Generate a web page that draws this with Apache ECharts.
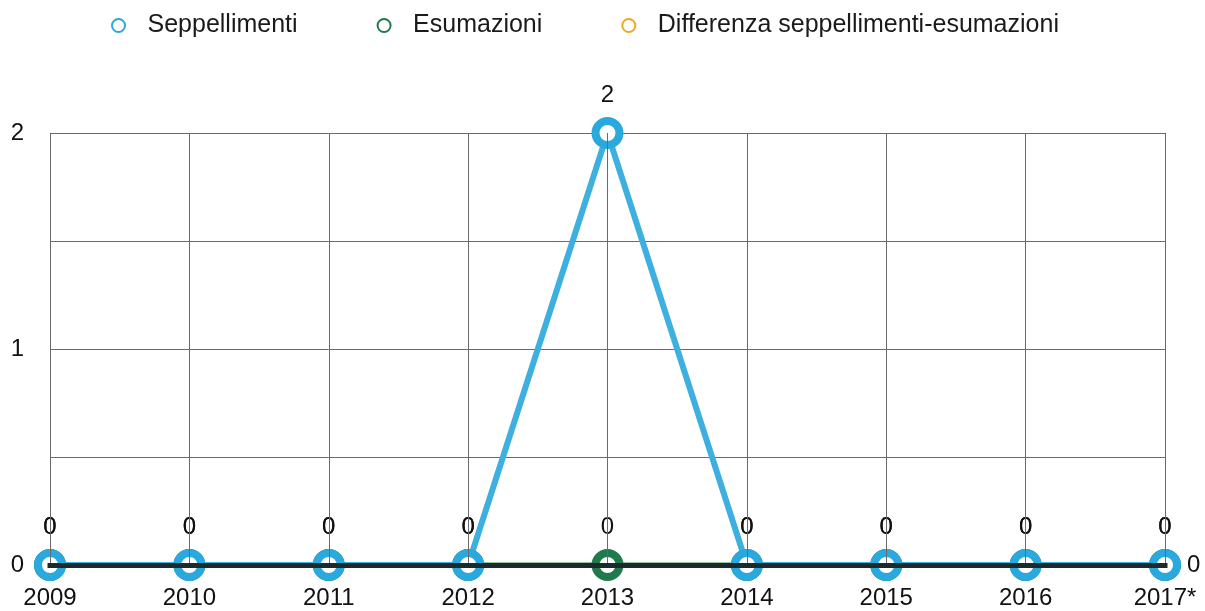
<!DOCTYPE html>
<html>
<head>
<meta charset="utf-8">
<script src="https://cdn.jsdelivr.net/npm/echarts@6/dist/echarts.min.js"></script>
<style>
  html, body { margin: 0; padding: 0; background: #fff; }
  #chart { width: 1205px; height: 611px; }
</style>
</head>
<body>
<div id="chart"></div>
<script>
// dati
const anni = ['2009', '2010', '2011', '2012', '2013', '2014', '2015', '2016', '2017*'];
const seppellimenti = [0, 0, 0, 0, 2, 0, 0, 0, 0];
const esumazioni = [0, 0, 0, 0, 0, 0, 0, 0, 0];
const differenza = [0, 0, 0, 0, 0, 0, 0, 0, 0];

const chart = echarts.init(document.getElementById('chart'));

const font = 'Liberation Sans, Arial, sans-serif';
const blu = '#29a9dd', verde = '#1f7a4c', arancio = '#f0a820';

const option = {
  animation: false,
  textStyle: { fontFamily: font },
  legend: {
    left: 106,
    top: 8,
    itemGap: 79,
    itemWidth: 32,
    itemHeight: 13,
    textStyle: { fontSize: 25, color: '#1a1a1a', fontFamily: font, padding: [0, 0, 0, 8] },
    data: [
      { name: 'Seppellimenti', icon: 'emptyCircle', itemStyle: { color: blu, borderColor: blu, borderWidth: 3 } },
      { name: 'Esumazioni', icon: 'emptyCircle', itemStyle: { color: verde, borderColor: verde, borderWidth: 3 } },
      { name: 'Differenza seppellimenti-esumazioni', icon: 'emptyCircle', itemStyle: { color: arancio, borderColor: arancio, borderWidth: 3 } }
    ]
  },
  grid: { left: 50, right: 40, top: 133, bottom: 46 },
  xAxis: {
    type: 'category',
    data: anni,
    boundaryGap: false,
    z: 10,
    axisLine: { lineStyle: { color: '#1b2a2a', width: 5, cap: 'square' } },
    axisTick: { show: false },
    axisLabel: { color: '#111', fontSize: 24, margin: 21, fontFamily: font },
    splitLine: { show: true, lineStyle: { color: '#6a6a6a', width: 1 } }
  },
  yAxis: {
    type: 'value',
    min: 0,
    max: 2,
    interval: 0.5,
    axisLine: { show: false },
    axisTick: { show: false },
    axisLabel: {
      color: '#111', fontSize: 24, margin: 26, fontFamily: font,
      formatter: v => (Number.isInteger(v) ? String(v) : '')
    },
    splitLine: { lineStyle: { color: '#6a6a6a', width: 1 } }
  },
  series: [
    {
      name: 'Differenza seppellimenti-esumazioni',
      type: 'line',
      data: differenza,
      z: 1,
      symbol: 'none',
      lineStyle: { color: arancio, width: 0 },
      itemStyle: { color: arancio },
      endLabel: { show: true, color: '#111', fontSize: 24, distance: 22, fontFamily: font }
    },
    {
      name: 'Esumazioni',
      type: 'line',
      data: esumazioni,
      z: 3,
      symbol: 'circle',
      symbolSize: 24,
      lineStyle: { color: '#2b8a3e', width: 5 },
      itemStyle: { color: '#fff', borderColor: verde, borderWidth: 8 },
      label: { show: true, position: 'top', distance: 10, color: '#111', fontSize: 24, fontFamily: font }
    },
    {
      name: 'Seppellimenti',
      type: 'line',
      data: seppellimenti,
      z: 4,
      symbol: 'circle',
      symbolSize: 24,
      lineStyle: { color: '#3db0e0', width: 6 },
      itemStyle: { color: '#fff', borderColor: blu, borderWidth: 8 },
      label: { show: true, position: 'top', distance: 10, color: '#111', fontSize: 24, fontFamily: font }
    }
  ]
};

chart.setOption(option);
</script>
</body>
</html>
